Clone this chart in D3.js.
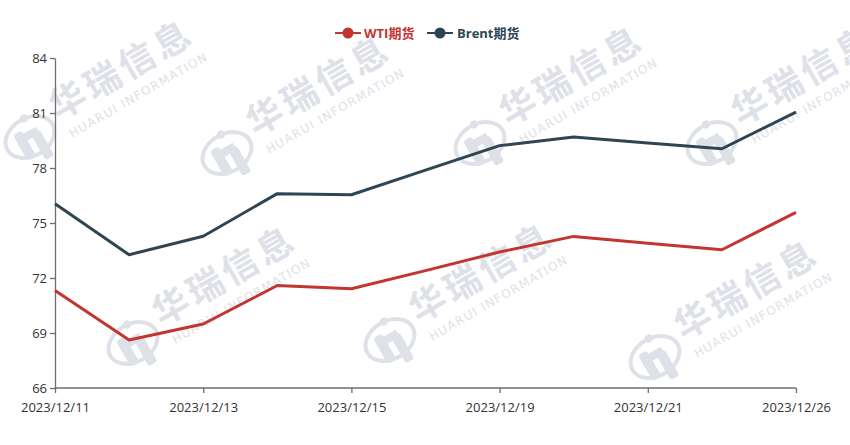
<!DOCTYPE html>
<html>
<head>
<meta charset="utf-8">
<script src="https://cdn.jsdelivr.net/npm/d3@7"></script>
<style>
  html, body { margin: 0; padding: 0; background: #fff; }
  svg { display: block; }
  text { font-family: "Microsoft YaHei", "Open Sans", "Noto Sans CJK SC", sans-serif; }
</style>
</head>
<body>
<svg id="chart" width="850" height="445"></svg>
<script>
const categories = ["2023/12/11","2023/12/12","2023/12/13","2023/12/14","2023/12/15","2023/12/18","2023/12/19","2023/12/20","2023/12/21","2023/12/22","2023/12/26"];
const wtiValues   = [71.32, 68.62, 69.49, 71.59, 71.41, 72.40, 73.42, 74.27, 73.90, 73.54, 75.58];
const brentValues = [76.05, 73.27, 74.28, 76.60, 76.54, 77.88, 79.22, 79.69, 79.37, 79.05, 81.05];
const seriesNames = ["WTI期货", "Brent期货"];
const seriesColors = ["#c23531", "#2f4554"];
const yTicks = [66, 69, 72, 75, 78, 81, 84];
const xTickLabels = ["2023/12/11","2023/12/13","2023/12/15","2023/12/19","2023/12/21","2023/12/26"];
const watermarkSpots = [[30,137],[227,153],[480,143],[712,143],[133,343],[390,340],[655,357]];

const svg = d3.select("#chart");
const x = d3.scalePoint().domain(categories).range([55, 796]);
const y = d3.scaleLinear().domain([66, 84]).range([388, 58]);

// watermarks
const wmColor = "#dfe1e9";
const wm = svg.append("g");
watermarkSpots.forEach(([cx, cy]) => {
  const g = wm.append("g").attr("transform", `translate(${cx},${cy}) rotate(-30)`);
  // logo
  g.append("ellipse").attr("cx", 0).attr("cy", 0).attr("rx", 26).attr("ry", 19)
    .attr("fill", "none").attr("stroke", wmColor).attr("stroke-width", 4);
  g.append("circle").attr("cx", 4).attr("cy", -19).attr("r", 4).attr("fill", wmColor);
  g.append("rect").attr("x", -14).attr("y", -10).attr("width", 10).attr("height", 30).attr("rx", 4).attr("fill", wmColor);
  g.append("rect").attr("x", 2).attr("y", -2).attr("width", 10).attr("height", 30).attr("rx", 3).attr("fill", wmColor);
  g.append("rect").attr("x", -8).attr("y", -6).attr("width", 18).attr("height", 8).attr("fill", wmColor);
  // texts
  g.append("text").attr("x", 33).attr("y", 0)
    .attr("font-size", 36).attr("font-weight", "bold").attr("letter-spacing", 4)
    .attr("fill", wmColor).style("font-family", "'Noto Sans CJK SC', sans-serif")
    .text("华瑞信息");
  g.append("text").attr("x", 36).attr("y", 22)
    .attr("font-size", 12).attr("letter-spacing", 1.3)
    .attr("fill", wmColor).style("font-family", "'DejaVu Sans', sans-serif")
    .text("HUARUI INFORMATION");
});

// axes
const axisColor = "#6e6e6e";
const yAxis = svg.append("g").attr("transform", "translate(55,0)")
  .call(d3.axisLeft(y).tickValues(yTicks).tickSize(5).tickSizeOuter(0).tickPadding(3));
const xAxis = svg.append("g").attr("transform", "translate(0,388)")
  .call(d3.axisBottom(x).tickValues(xTickLabels).tickSize(5).tickSizeOuter(0).tickPadding(10));
[yAxis, xAxis].forEach(a => {
  a.select(".domain").attr("stroke", axisColor).attr("stroke-width", 1.3);
  a.selectAll(".tick line").attr("stroke", axisColor).attr("stroke-width", 1.3);
  a.selectAll(".tick text").attr("fill", "#333").attr("font-size", 13)
    .style("font-family", "'Microsoft YaHei', 'Open Sans', sans-serif");
});
xAxis.select(".domain").attr("d", `M55,0H796`);

// lines
const line = d3.line().x((d, i) => x(categories[i])).y(d => y(d));
[wtiValues, brentValues].forEach((vals, k) => {
  svg.append("path").datum(vals)
    .attr("d", line)
    .attr("fill", "none")
    .attr("stroke", seriesColors[k])
    .attr("stroke-width", 3)
    .attr("stroke-linejoin", "round");
});

// legend
const legendItems = [{x: 335, tx: 364}, {x: 427, tx: 457}];
legendItems.forEach((it, k) => {
  const g = svg.append("g");
  g.append("line").attr("x1", it.x).attr("x2", it.x + 26).attr("y1", 33).attr("y2", 33)
    .attr("stroke", seriesColors[k]).attr("stroke-width", 2);
  g.append("circle").attr("cx", it.x + 13).attr("cy", 33).attr("r", 5.5).attr("fill", seriesColors[k]);
  g.append("text").attr("x", it.tx).attr("y", 33).attr("dy", "0.35em")
    .attr("font-size", 13).attr("font-weight", "bold").attr("fill", seriesColors[k])
    .text(seriesNames[k]);
});
</script>
</body>
</html>
